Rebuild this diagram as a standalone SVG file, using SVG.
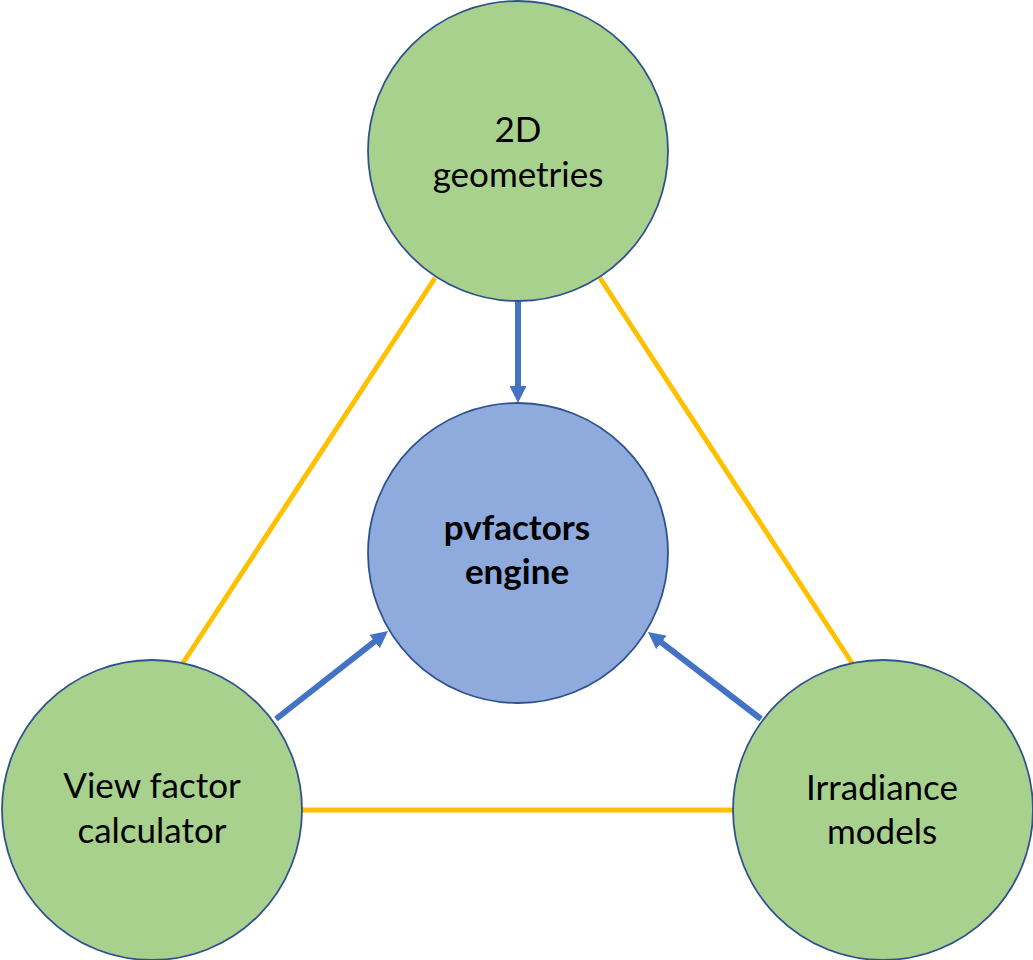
<svg xmlns="http://www.w3.org/2000/svg" width="1033" height="960" viewBox="0 0 1033 960">
<style>
.node{fill:#A9D18E;stroke:#2F528F;stroke-width:1.8}
.core{fill:#8FAADC;stroke:#2F528F;stroke-width:1.8}
.lbl{font-family:Lato,"Liberation Sans",sans-serif;font-size:35px;fill:#000;text-anchor:middle}
.bold{font-weight:bold}
.link{stroke:#FFC000;stroke-width:5;fill:none}
.arrow{stroke:#4472C4;stroke-width:6;fill:none;marker-end:url(#ah)}
</style>
<defs>
<marker id="ah" viewBox="0 0 17 17" markerWidth="17" markerHeight="17" markerUnits="userSpaceOnUse" refX="1" refY="8.5" orient="auto">
<path d="M0,0 L17,8.5 L0,17 z" fill="#4472C4"/>
</marker>
</defs>
<rect width="1033" height="960" fill="#fff"/>
<g id="connectors">
<line class="link" x1="435" y1="278" x2="183" y2="663"/>
<line class="link" x1="600" y1="278" x2="852" y2="663"/>
<line class="link" x1="302" y1="810" x2="733" y2="810"/>
<line class="arrow" x1="518" y1="301" x2="518" y2="387"/>
<line class="arrow" x1="276" y1="719" x2="375.4" y2="640.9"/>
<line class="arrow" x1="761" y1="719" x2="660.6" y2="641.8"/>
</g>
<g id="geometries">
<circle class="node" cx="518" cy="151" r="150"/>
<text class="lbl" x="518" y="142">2D</text>
<text class="lbl" x="518" y="187">geometries</text>
</g>
<g id="engine">
<circle class="core" cx="518" cy="553" r="150"/>
<text class="lbl bold" x="517" y="540">pvfactors</text>
<text class="lbl bold" x="517" y="584">engine</text>
</g>
<g id="viewfactor">
<circle class="node" cx="152" cy="810" r="150"/>
<text class="lbl" x="152" y="798">View factor</text>
<text class="lbl" x="152" y="843">calculator</text>
</g>
<g id="irradiance">
<circle class="node" cx="883" cy="810" r="150"/>
<text class="lbl" x="882" y="800">Irradiance</text>
<text class="lbl" x="882" y="844">models</text>
</g>
</svg>
